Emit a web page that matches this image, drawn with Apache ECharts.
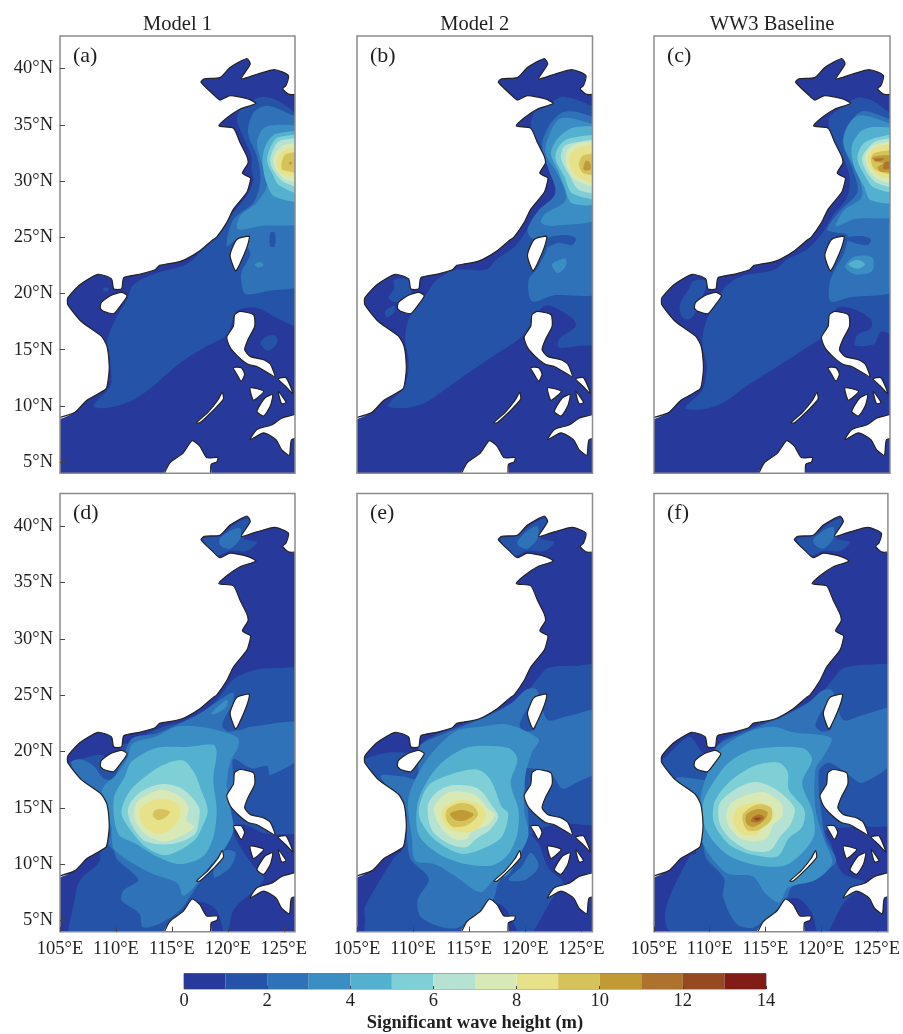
<!DOCTYPE html>
<html>
<head>
<meta charset="utf-8">
<style>html,body{margin:0;padding:0;background:#fff}#c{width:903px;height:1034px}</style>
<script src="https://cdn.jsdelivr.net/npm/echarts@6/dist/echarts.min.js"></script>
</head>
<body>
<div id="c"></div>
<script>
var panelTitles = ['Model 1', 'Model 2', 'WW3 Baseline'];
var panelTags = ['(a)', '(b)', '(c)', '(d)', '(e)', '(f)'];
var lonTicks = [105, 110, 115, 120, 125];
var latTicks = [5, 10, 15, 20, 25, 30, 35, 40];
var barTicks = [0, 2, 4, 6, 8, 10, 12, 14];
var bandColors = ['#27399b', '#2553a8', '#2f72b8', '#3a8ec4', '#54b0cf', '#7fd0d6', '#b5e2d2', '#d8e9b6', '#e7e28a', '#d6c25a', '#c09a35', '#ad732e', '#964a22', '#821c17'];
var bandEdges = [0, 1, 2, 3, 4, 5, 6, 7, 8, 9, 10, 11, 12, 13, 14];

// Coastlines (lon, lat)
var coastMain = [[105,8.7],[106.3,9.4],[107.4,10.5],[109.1,11.5],[109.3,12.3],[109.4,13.5],[109.2,15.3],[108.7,16.2],[106.9,17.5],[105.7,19],[105.7,19.6],[106.8,20.8],[108.4,21.7],[109.6,21.3],[109.8,20.4],[110.5,20.4],[110.7,21.4],[112.1,21.7],[113.5,22.1],[113.9,22.5],[114.5,22.6],[115.9,22.9],[117.5,23.8],[118.7,24.8],[119,25],[119.9,26.3],[120.5,27.5],[121.7,29],[122,30],[122,30.3],[121.3,30.7],[121.8,31.6],[121.7,32.2],[121.1,33.4],[120.5,34.7],[119.2,34.9],[119.9,35.6],[121.1,36.4],[122.5,36.9],[121.8,37.3],[120.2,37.6],[119.3,37.2],[118.7,37.7],[117.6,38.8],[117.9,39.1],[119.3,39.2],[120.2,40.1],[121.7,40.9],[122,40.4],[121.2,39.1],[122.6,39.5],[124.2,39.9],[125.4,39.4],[125.2,38.5],[124.9,38.2],[125.5,37.7],[126,37.8]];
var landCorners = [[126,42.9],[105,42.9]];
var hainan = [[108.7,19.2],[109.5,19.8],[110.5,20.1],[111,19.8],[110.4,18.9],[109.8,18.2],[108.9,18.4],[108.6,18.7]];
var taiwan = [[121.9,25.1],[120.8,24.8],[120.2,23.4],[120.7,22],[121.2,22.9],[121.7,24.1],[121.9,24.8]];
var luzon = [[120.6,18.1],[121.1,18.4],[122.3,18.1],[122.4,17.1],[121.8,15.9],[121.5,15],[122,14.4],[123.2,14.1],[123.8,13.7],[124.2,12.6],[123.3,13.1],[122.6,13.5],[121.8,13.7],[120.9,14.4],[120.2,15.2],[119.9,16.1],[120.5,17.1]];
var mindoro = [[120.5,13.4],[121.2,13.4],[121.5,12.8],[121.2,12.2],[120.8,12.8]];
var samar = [[124.5,12.4],[125.2,12.5],[125.8,11.1],[125.1,11.8]];
var panay = [[122,11.6],[123.2,11.3],[122.3,10.5]];
var negros = [[124,11],[123.8,10],[123.2,9.1],[122.6,9.5],[123.3,10.7]];
var leyte = [[124.5,11.3],[125.2,10.3],[124.8,10.2]];
var palawan = [[119.5,11.2],[119.6,10.6],[118.9,9.8],[117.5,8.5],[117.2,8.5],[118.2,9.4],[119.1,10.5]];
var mindanao = [[126,9.5],[125.5,9.1],[124.8,8.9],[123.9,8.3],[122.6,7.9],[122,7],[123.2,7.6],[124.3,7],[124.8,6.1],[125.5,5.6],[125.7,7],[126,7.1]];
var borneo = [[113.9,4],[114.8,4.9],[116,5.8],[116.8,6.9],[117.5,6.4],[118.1,5.4],[119.1,5.4],[119,5],[118.5,4.8],[118.5,4]];
var seaExtent = [[105,4],[126,4],[126,42.9],[105,42.9]];

// Filled wave height regions: [band, outline of lon/lat]
var contoursA = [
[0, seaExtent],
[1, [[108,10],[109.2,9.8],[111.3,10.4],[113,11.5],[115.7,13.8],[118.1,15.3],[119.9,16.3],[120.8,18.4],[122.6,18.7],[124.6,17.7],[126,17],[126,34.6],[125.2,36.7],[123.2,37.5],[121.4,36.7],[120.8,35.5],[121.2,34.3],[122.1,32.2],[122.1,31],[122.3,30.1],[121.7,28.7],[120.5,27.2],[119.3,25.4],[117.8,23.9],[116.3,22.6],[113.3,21.7],[111.5,20.7],[111,19.5],[109.8,17.4],[109.2,15.6],[109.5,13.8],[109.5,11.8]]],
[1, [[122.9,15.6],[123.5,16.2],[124.3,16.2],[124.4,15.6],[123.6,14.9]]],
[1, [[108.9,20.5],[109.3,20.5],[109.3,20.2],[108.9,20.2]]],
[2, [[126,35],[125.2,36.1],[123.5,36.7],[122.3,36.1],[121.8,34.3],[122.6,32.2],[122.9,30.1],[122.3,28.1],[120.5,26.6],[119.9,24.2],[120.9,24.8],[122,23.6],[121.2,21.8],[121.4,20.1],[121.8,19.9],[123.5,20.2],[126,21.1]]],
[1, [[123.8,25.4],[124.2,25.4],[124.2,24.2],[123.8,24.2]]],
[3, [[126,34.5],[124.6,35],[123.2,34.7],[122.6,33.4],[123.2,31],[123.5,29.6],[122.6,28.1],[121.1,26.9],[120.9,25.7],[122.9,26],[126,26.6]]],
[3, [[122.4,22.6],[122.9,22.8],[123.2,22.5],[122.7,22.3]]],
[4, [[126,34.1],[124.3,34.2],[123.4,33.2],[123.1,31.9],[123.4,30],[124.2,28.6],[126,28.4]]],
[5, [[126,33.8],[124.5,33.9],[123.8,33],[123.5,31.8],[124,30.6],[124.6,29.6],[126,28.9]]],
[6, [[126,33.5],[124.7,33.6],[124,32.7],[123.8,31.6],[124.3,30.6],[125,29.9],[126,29.5]]],
[7, [[126,33.2],[125,33.2],[124.2,32.4],[124.1,31.5],[124.6,30.6],[125.2,30.1],[126,30]]],
[8, [[126,32.9],[125.2,32.8],[124.5,32.1],[124.4,31.3],[124.8,30.7],[126,30.4]]],
[9, [[126,32.5],[125.2,32.4],[124.8,31.6],[124.9,31],[126,30.8]]],
[10, [[125.5,31.7],[125.7,31.7],[125.7,31.5],[125.5,31.5]]]
];
var contoursB = [
[0, seaExtent],
[1, [[107.8,10],[109.3,9.8],[111.1,10.3],[112.9,11.5],[115.3,13.2],[117.4,14.6],[119.4,15.9],[120,16.5],[121.8,18.9],[124.2,17.8],[124.5,17.1],[123,15.9],[123,15.2],[124.5,15.3],[126,15.9],[126,35.8],[125.4,36.9],[123.3,37.5],[122.1,36.8],[120.8,36],[120.5,34.6],[121.5,32.5],[122.6,31.3],[122.7,29.5],[122.4,28.3],[120.9,26.9],[120.2,25.7],[119.1,24.2],[117.4,23],[116.5,22.1],[113.8,22.1],[112,21.1],[111.3,20.1],[109.6,17.7],[109.3,15.9],[109.6,14.1],[109.3,11.8]]],
[1, [[108.3,21.2],[109.6,21.2],[109.8,20],[108.6,19.2],[107.8,19.6],[108.3,20.4]]],
[1, [[107.5,18.4],[108.3,18.9],[108.4,18.4],[107.7,17.9]]],
[2, [[126,34.9],[124.8,36.1],[123.3,36.1],[122.1,34.9],[121.5,33.1],[122.1,31],[122.7,28.9],[121.2,27.4],[120.2,25.7],[120.6,24.9],[122,24.5],[121.2,22.4],[120.3,21.2],[120.6,19.3],[122.4,19.8],[126,20.4]]],
[1, [[122,24.9],[123.6,25.2],[124.5,24.9],[124.2,24.3],[123,24.5],[121.8,24.1]]],
[3, [[126,34.3],[124.5,35.5],[123,35.5],[122.1,34],[121.8,32.5],[123,30.4],[123.6,28.3],[121.8,27.1],[121.4,26.3],[122.4,26],[126,27]]],
[3, [[122.4,22.6],[123.6,23.1],[123.6,22.4],[122.9,21.8]]],
[4, [[126,34.4],[124.5,34.8],[123,33.9],[122.3,32.5],[122.9,31],[123.5,29.5],[124.2,28],[126,28.3]]],
[5, [[126,33.8],[124,33.8],[123,33.1],[122.7,32],[123.5,30.4],[124.2,28.9],[126,28.6]]],
[6, [[126,33.5],[124.8,33.5],[123.5,33.1],[123.2,32],[124,30.4],[124.8,29.2],[126,29.1]]],
[7, [[126,33.3],[124.5,33.3],[123.7,32.6],[123.7,31.3],[124.5,30.1],[126,29.5]]],
[8, [[126,33.1],[124.8,33],[124,32.3],[124,31.3],[124.8,30.3],[126,29.8]]],
[9, [[126,32.3],[125.2,32.3],[124.8,31.5],[125.2,30.7],[126,30.6]]],
[10, [[125.4,31.8],[125.8,31.6],[125.8,31],[125.2,31]]]
];
var contoursC = [
[0, seaExtent],
[1, [[107.8,9.8],[109.4,9.7],[111.2,10.3],[113.3,11.8],[116.3,13.7],[118.6,15.2],[120,16.2],[121.3,18.7],[122.8,18.6],[124.3,17.7],[124.3,16.9],[123.1,16.3],[122.9,15.4],[124.6,15.5],[125.2,16.6],[126,16.3],[126,34.9],[125.5,36.4],[124.3,37.2],[123.1,37.4],[121.6,36.5],[120.6,35.6],[120.7,34.3],[121.9,31.9],[122.4,30.4],[122.2,28.6],[120.9,26.9],[120,25.4],[118.6,23.9],[116.8,23],[115.7,22.1],[112.7,21.5],[111.2,20.4],[109.6,17.4],[109.3,15.6],[109.7,13.5],[109.3,11.4]]],
[1, [[108.5,21.1],[109.7,21.1],[109.4,19.9],[108.7,18.3],[108.1,17.7],[107.5,17.9],[107.3,19],[108.1,20.4]]],
[2, [[126,34.6],[125.2,35.8],[123.5,36.2],[122.2,34.9],[121.8,33.4],[122.8,30.7],[123.1,29],[121.6,27.4],[120.4,25.7],[121.3,25.4],[122.2,25.2],[121.9,23.6],[120.7,21.2],[120.7,19.3],[122.2,19.6],[126,20.7]]],
[1, [[121.9,24.9],[123.4,25.1],[124.3,24.8],[124,24.3],[122.8,24.5]]],
[3, [[126,34.3],[124.6,35.6],[123.1,35.8],[122.1,34.6],[121.9,33.1],[123.1,30.7],[123.5,28.6],[121.9,27.4],[121.2,26],[122.8,26.6],[126,27.2]]],
[3, [[122,22.4],[122.9,23.3],[124.4,23.2],[124.4,22],[122.9,21.7]]],
[4, [[122.3,22.6],[123.1,23],[123.8,22.6],[123.1,22.2]]],
[4, [[126,34.3],[124.6,34.8],[123.4,34.4],[122.6,33.1],[122.8,31.3],[123.7,29.5],[124.3,28.3],[126,28.3]]],
[5, [[126,34],[124.9,33.9],[123.6,33.3],[123.1,32],[123.8,30.4],[124.6,29.4],[126,29.1]]],
[6, [[126,33.6],[124.9,33.6],[124,32.9],[123.5,32],[124,30.7],[124.9,29.8],[126,29.5]]],
[7, [[126,33.3],[124.6,33.2],[123.8,32.2],[124.1,31],[125,30.1],[126,29.9]]],
[8, [[126,33.1],[124.7,33],[124,32],[124.4,31],[125.2,30.4],[126,30.3]]],
[9, [[126,32.6],[124.6,32.5],[124.3,31.9],[124.7,31],[126,30.6]]],
[10, [[124.4,32.1],[125.6,32.3],[126,32],[126,31],[125.2,30.8],[124.9,31.2],[125.4,31.6],[124.7,31.7]]],
[11, [[124.6,32],[125.5,32],[125.2,31.8],[124.7,31.8]]],
[11, [[125.6,31.7],[126,31.6],[125.9,31.1],[125.4,31.1]]]
];
var contoursD = [
[0, seaExtent],
[1, [[117.8,38.9],[119.3,39.1],[120.5,40.1],[121.8,40.7],[122,40.4],[121.4,38.9],[122.6,38.6],[121.7,37.8],[120.2,37.8],[119,37.4],[118.2,38.1]]],
[2, [[119.3,38.9],[120.2,39.6],[121.1,39.8],[121.1,38.9],[120.2,38],[119.3,38.3]]],
[1, [[126,27],[124.3,27.4],[122.3,27.2],[120.5,26.4],[119.3,24.9],[118.1,23.7],[116.3,22.7],[114.2,22.2],[111,20.7],[110.7,20.7],[109.8,19.3],[108.6,19.7],[107.1,19.4],[106,19.1],[105,17.8],[107.1,14.8],[108.6,10.5],[106.8,8.6],[106.3,6.8],[106,4],[113.9,4],[117.2,4.7],[117.2,6.6],[118.7,6.2],[119.3,5.2],[119.9,4],[120.5,5.9],[123.2,8.6],[122.3,9.8],[120.8,12.1],[120.5,13.3],[121.5,13.5],[123.5,12.7],[126,13.3]]],
[2, [[126,22.5],[122,22.2],[120.8,21.9],[120.2,23],[120.5,25.2],[119.3,24.6],[117.5,23.4],[115.7,22.5],[113.6,21.6],[111.5,21.2],[110.7,19.7],[109.8,17.6],[108.9,17.6],[108,18.7],[106.8,19.3],[106,19],[106.9,17.3],[109.2,14.4],[109.5,12.7],[109.3,11.8],[109.8,11.2],[110.1,10.4],[112,8.6],[110.7,7.7],[110.5,6.8],[112.1,5.6],[112.4,4.4],[113.9,4.7],[115.7,5.9],[117.2,8],[119.3,11.2],[120.5,13.3],[119.9,14.8],[120.5,17.2],[120.5,19.3],[122.1,18.5],[123.5,18.7],[123.8,17.9],[126,19.9]]],
[2, [[118.8,8.8],[120.2,9.7],[120.7,11],[119.7,11.2],[118.8,9.7]]],
[1, [[119.5,22.3],[120,23.5],[120.6,24.2],[120.9,23.4],[120.9,22],[120,21.8]]],
[3, [[120.9,21.2],[119,21.9],[117.5,22.2],[115.4,22.2],[113.5,21.3],[111.5,20.7],[111,19.3],[109.9,17.8],[108.9,16.9],[108.7,15.7],[109.6,13.3],[109.6,12.6],[109.9,11.2],[113.1,9.2],[115.5,8.3],[116,7.2],[117,8],[118.1,9.5],[119.6,11.2],[120.5,13],[120.2,15.1],[119.9,16.9],[120.2,19],[120.9,20.4]]],
[3, [[118.5,23.4],[119.9,24.6],[119.9,24],[118.8,23.3]]],
[4, [[118.7,20.6],[119,19.9],[118.7,17.5],[119,14.8],[118.7,12.4],[117.8,10.7],[115.7,10],[113.6,10.7],[111.8,11.8],[110.2,12.7],[109.8,15.8],[110.8,17.8],[111.4,19.1],[113.6,20.3],[116.3,20.4]]],
[5, [[116,19.2],[117,18.1],[117.6,16.6],[118.2,14.8],[117.8,13.5],[116.9,12],[114.5,10.8],[112.7,11.5],[111.4,12.9],[110.5,14.5],[111.1,16.3],[112.4,17.6],[114.2,18.8]]],
[6, [[114,17.1],[115.9,16.7],[117.4,15.1],[117.4,13.8],[117,12.6],[115.1,11.8],[112.7,12],[111.4,13.5],[111.1,15],[112.2,16.4]]],
[7, [[114.1,16.6],[115.6,16.1],[116.5,15.1],[116.3,13.9],[117,13.3],[115.4,12.3],[114.2,12],[112.7,12.6],[111.7,13.9],[111.8,15.4],[112.7,16.1]]],
[8, [[114.1,15.8],[115.6,15.3],[115.7,14.2],[114.8,13],[113.6,12.7],[112.4,13.5],[112.1,14.8],[112.9,15.5]]],
[9, [[113.8,14.9],[114.8,14.7],[114.5,14.2],[113.8,13.9],[113.3,14.3],[113.4,14.7]]]
];
var contoursE = [
[0, seaExtent],
[1, [[117.8,38.9],[119.3,39.1],[120.5,40.1],[121.8,40.7],[122,40.4],[121.4,38.9],[122.6,38.6],[121.7,37.8],[120.2,37.8],[119,37.4],[118.2,38.1]]],
[2, [[119.3,38.6],[120.2,39.6],[121.1,40],[121.1,38.9],[120.2,38],[119.5,38.2]]],
[1, [[126,27.4],[124.2,27.6],[122,27.4],[121.3,26.7],[119.8,25],[117.6,23.7],[114.7,22.5],[111.1,21],[110.7,20.1],[109.6,19.9],[107.8,19.9],[105.7,19.3],[105,18.1],[106.9,15.4],[109,11.3],[108.4,10.7],[105.7,6.2],[105.7,5.3],[106,4],[113.8,4],[117,6.5],[118.1,6.2],[119,4.7],[119.9,4],[122.4,6.9],[123.4,8.3],[122.1,9.6],[121.2,11.8],[120.6,12.7],[123,13.6],[126,13.9]]],
[2, [[126,23.6],[123.6,23.1],[122,22.8],[121,25.5],[120.1,25.5],[118.8,24.3],[116.6,23.1],[114.1,22.1],[110.8,20.7],[110.4,19.9],[110.4,17.6],[109,17.8],[107.1,17.8],[109.2,15.1],[109.5,11.8],[109.8,10.4],[111.4,8.7],[110.4,6.8],[110.7,5.3],[112.6,4.4],[114.1,4.4],[117.1,6.8],[117.6,8.3],[120,11.8],[120.3,13.9],[119.9,18.4],[120.6,18.5],[122.4,17.9],[123.3,16.7],[124.5,17.2],[126,18.7]]],
[2, [[118.5,8.6],[119.7,9.8],[120.5,11],[121.2,9.8],[120,8.6]]],
[1, [[119.5,22.3],[120,23.5],[120.6,24.2],[120.9,23.4],[120.9,22],[120,21.8]]],
[3, [[116,22.2],[118.4,22.4],[121.2,21.1],[120.6,19.9],[120,17.8],[119.9,14.8],[120.3,12.7],[119.7,11.2],[118.5,9.1],[117.2,8.6],[116,7.5],[113.8,8.9],[111.9,10],[110.2,10.3],[109.9,12.3],[109.6,15.9],[111.3,19.4],[113.8,21.8]]],
[4, [[118.5,20.3],[119.3,19.3],[118.7,17.2],[119.4,14.8],[119.3,12.7],[118.5,10.9],[117.1,9.9],[114.7,10],[112.3,10.9],[110.5,12.6],[110.4,15.4],[111.4,17.6],[112.9,19.3],[115,20.4]]],
[5, [[115.7,18.4],[116.9,17.5],[117.9,15.1],[118.5,14.5],[117.9,12.4],[116.5,11.5],[114.5,10.9],[112.9,11.5],[111.5,12.6],[110.5,14.5],[111.3,16.9],[113.2,17.9]]],
[6, [[113.5,17],[115.8,16.7],[117.1,15.1],[117.6,14.2],[116.8,13],[115.7,12.3],[114.7,11.5],[113.2,11.8],[111.7,13],[111.3,15.1],[112,16.3]]],
[7, [[113.3,16.4],[115.6,16.1],[116.8,14.8],[117.3,14.4],[116.7,13.5],[115.3,12.9],[114.7,12.2],[113.5,12.3],[112.3,13.5],[111.9,15.1]]],
[8, [[112.8,15.1],[114.4,15.7],[116,15.2],[116.5,14.4],[115.7,13.1],[114.4,12.8],[113,13.3],[112.5,14.5]]],
[9, [[113,14.8],[114.1,15.4],[115.3,15.2],[115.8,14.4],[114.9,13.5],[113.6,13.3],[113,13.9]]],
[10, [[113.3,14.5],[114.4,14.8],[115.4,14.4],[114.7,13.9],[113.8,13.9]]]
];
var contoursF = [
[0, seaExtent],
[1, [[117.8,38.9],[119.3,39.1],[120.5,40.1],[121.8,40.7],[122,40.4],[121.4,38.9],[122.6,38.6],[121.7,37.8],[120.2,37.8],[119,37.4],[118.2,38.1]]],
[2, [[119.3,38.8],[120.2,39.6],[121.1,39.9],[121.1,38.9],[120.2,38],[119.5,38.3]]],
[1, [[126,27.3],[124.2,27.7],[122,27.4],[121.3,26.7],[119.8,25],[117.6,23.7],[114.7,22.5],[111.1,21],[110.7,20.1],[109.4,19.9],[108.2,21.3],[105.8,19.3],[105,18.1],[106.7,15.1],[108.8,11],[108.2,10.7],[106.1,6.2],[106.4,4.1],[114,4],[116.8,6.8],[118,6.9],[119.2,5.6],[120,4],[122,6.5],[124,8.3],[121.9,9.2],[120.9,11.8],[120.4,13],[122.8,13.3],[126,13.9]]],
[2, [[126,23.8],[123.6,23.2],[122,22.8],[121,25.4],[120.1,25.4],[118.8,24.3],[116.6,23.1],[114.1,22.1],[110.9,20.7],[110.4,19.9],[110.3,17.6],[107,17.6],[108.8,15],[109.4,11.8],[109.7,10.5],[111.3,8.7],[111.2,7.1],[112.4,4.7],[114,4.4],[116.8,6.8],[117.4,8],[121.3,10.1],[120.4,12.3],[120.1,13.9],[119.8,18.2],[120.7,19],[122.5,17.9],[123.7,17.2],[126,19.7]]],
[1, [[119.5,22.3],[120,23.5],[120.6,24.2],[120.9,23.4],[120.9,22],[120,21.8]]],
[3, [[115.7,22.2],[117.5,21.7],[120.9,21.2],[120.3,19.7],[119.5,18.4],[119.5,14.9],[120.3,12.1],[121,10.1],[119.5,8.6],[117,7.9],[116.3,6.6],[115,7.4],[113.9,8.9],[111.5,9.2],[109.4,11.8],[109.1,14.5],[109.4,16.9],[110.9,20.1],[113.6,21.8]]],
[4, [[114,20.2],[118.3,20.3],[119.2,19.3],[118.3,17.2],[119.2,14.8],[119.4,12.7],[118.5,11.2],[116.8,9.9],[114.2,9.9],[111.5,10.9],[109.7,13],[109.4,15.4],[110.9,18.1],[112.1,19.3]]],
[5, [[112.4,17.8],[114.2,18.8],[116.2,19],[117,18.2],[117.1,16.6],[118.5,14.8],[118.3,13.3],[117.1,12.3],[116.1,10.7],[114,10.8],[111.8,11.7],[110.4,13.6],[110.4,15.4],[111.2,16.7]]],
[6, [[112.4,16.7],[114.2,17.3],[116,16.6],[117.6,15],[117.3,13.6],[116.3,12.4],[115.4,11.2],[113.6,11.2],[111.8,12.3],[110.9,13.6],[110.9,15.4]]],
[7, [[112.5,15.8],[114.8,16.4],[116.4,15.4],[116.5,14.2],[115.7,13.5],[115.2,12.4],[114.2,12],[112.7,12.3],[111.6,13.6],[111.6,14.9]]],
[8, [[112.5,15],[114.2,15.5],[115.5,15.1],[115.8,14.2],[114.8,13.3],[114.2,12.6],[112.8,12.7],[112.1,13.9]]],
[9, [[113,14.5],[114.3,15.3],[115.5,15],[115.5,13.9],[114.3,13],[113.4,13],[113,13.7]]],
[10, [[113.3,14.4],[114.3,14.9],[115.2,14.6],[114.9,13.9],[113.9,13.3],[113.3,13.6]]],
[11, [[113.9,14.2],[114.5,14.4],[114.9,14.1],[114.3,13.7],[113.7,13.8]]],
[12, [[114,14.1],[114.6,14.1],[114.4,13.9],[114.1,13.9]]]
];
var allContours = [contoursA, contoursB, contoursC, contoursD, contoursE, contoursF];
var closedIslands = [hainan, taiwan, luzon, mindoro, samar, panay, negros, leyte, palawan];
var openCoasts = [coastMain, mindanao, borneo];

var SERIF = '"Liberation Serif","Times New Roman",serif';
var TEXT = '#1f1f1f';
var COAST = '#232323';
var panelLeft = [60, 357, 654];
var panelWidth = [235, 235.5, 236];
var panelTop = [36, 493.5];
var panelHeight = [437.3, 438.2];

var grids = [], xAxes = [], yAxes = [], series = [], titles = [];

// Outlines that end on the map frame run on past it and are clipped there,
// so that rounding a corner does not pull them away from the frame.
function pastFrame(p) {
  return [p[0] >= 126 ? 127 : (p[0] <= 105 ? 104 : p[0]), p[1] <= 4 ? 3 : (p[1] >= 42.9 ? 44 : p[1])];
}
function toPx(api, pts) {
  return pts.map(function (p) { return api.coord(pastFrame(p)); });
}

allContours.forEach(function (contours, i) {
  var col = i % 3, row = Math.floor(i / 3);
  grids.push({
    left: panelLeft[col], top: panelTop[row], width: panelWidth[col], height: panelHeight[row],
    show: false
  });
  var bottomRow = row === 1, leftCol = col === 0;
  xAxes.push({
    gridIndex: i, type: 'value', min: 105, max: 126, position: 'bottom', z: 6,
    splitLine: { show: false }, axisLine: { show: false },
    axisTick: { show: bottomRow, inside: true, length: 5, lineStyle: { color: '#444', width: 1 }, customValues: lonTicks },
    axisLabel: { show: bottomRow, margin: 8, color: TEXT, fontFamily: SERIF, fontSize: 18.5, customValues: lonTicks,
      formatter: function (v) { return v + '°E'; } }
  });
  yAxes.push({
    gridIndex: i, type: 'value', min: 4, max: 42.9, position: 'left', z: 6,
    splitLine: { show: false }, axisLine: { show: false },
    axisTick: { show: leftCol, inside: true, length: 5, lineStyle: { color: '#444', width: 1 }, customValues: latTicks },
    axisLabel: { show: leftCol, margin: 7, color: TEXT, fontFamily: SERIF, fontSize: 18.5, customValues: latTicks,
      formatter: function (v) { return v + '°N'; } }
  });
  series.push({
    type: 'custom', xAxisIndex: i, yAxisIndex: i, coordinateSystem: 'cartesian2d',
    silent: true, animation: false, clip: true, z: 2,
    data: contours.map(function (c) { return c[0]; }),
    renderItem: function (params, api) {
      var c = contours[params.dataIndex];
      return {
        type: 'polygon',
        shape: { points: toPx(api, c[1]), smooth: c[1] === seaExtent ? 0 : 0.3 },
        style: { fill: bandColors[c[0]], stroke: null }
      };
    }
  });
  var landRows = closedIslands.map(function (p) { return { pts: p, open: false }; })
    .concat(openCoasts.map(function (p) { return { pts: p, open: true }; }));
  series.push({
    type: 'custom', xAxisIndex: i, yAxisIndex: i, coordinateSystem: 'cartesian2d',
    silent: true, animation: false, clip: true, z: 3,
    data: landRows.map(function (r, k) { return k; }),
    renderItem: function (params, api) {
      var r = landRows[params.dataIndex];
      var fillPts = r.pts === coastMain ? r.pts.concat(landCorners) : r.pts;
      return {
        type: 'group',
        children: [
          { type: 'polygon', shape: { points: toPx(api, fillPts), smooth: 0.2 },
            style: { fill: '#fff', stroke: r.open ? null : COAST, lineWidth: 1.2 } },
          r.open ? { type: 'polyline', shape: { points: toPx(api, r.pts), smooth: 0.2 },
            style: { fill: null, stroke: COAST, lineWidth: 1.2 } } : { type: 'group', children: [] }
        ]
      };
    }
  });
  series.push({
    type: 'custom', xAxisIndex: i, yAxisIndex: i, coordinateSystem: 'cartesian2d',
    silent: true, animation: false, clip: false, z: 4,
    data: [0],
    renderItem: function (params, api) {
      return { type: 'polygon', shape: { points: seaExtent.map(function (p) { return api.coord(p); }) },
        style: { fill: null, stroke: '#8c8c8c', lineWidth: 1.5 } };
    }
  });
  titles.push({
    text: panelTags[i], left: panelLeft[col] + 13, top: panelTop[row] + 9,
    textStyle: { fontFamily: SERIF, fontSize: 22, fontWeight: 'normal', color: TEXT }, padding: 0
  });
});

panelTitles.forEach(function (t, col) {
  titles.push({
    text: t, left: panelLeft[col] + panelWidth[col] / 2, top: 14, textAlign: 'center',
    textStyle: { fontFamily: SERIF, fontSize: 20.5, fontWeight: 'normal', color: TEXT }, padding: 0
  });
});

// Colour bar
var barIdx = allContours.length;
grids.push({ left: 184, top: 973.5, width: 582, height: 19.5, show: true, borderColor: '#777', borderWidth: 1 });
xAxes.push({
  gridIndex: barIdx, type: 'value', min: 0, max: 14, position: 'bottom', z: 6,
  splitLine: { show: false }, axisLine: { show: false },
  axisTick: { show: true, inside: true, length: 3, lineStyle: { color: '#444', width: 1 }, customValues: barTicks },
  axisLabel: { margin: 3, color: TEXT, fontFamily: SERIF, fontSize: 18.5, customValues: barTicks },
  name: 'Significant wave height (m)', nameLocation: 'middle', nameGap: 25,
  nameTextStyle: { fontFamily: SERIF, fontSize: 18.5, color: TEXT, fontWeight: 'bold' }
});
yAxes.push({ gridIndex: barIdx, type: 'value', min: 0, max: 1, show: false });
series.push({
  type: 'custom', xAxisIndex: barIdx, yAxisIndex: barIdx, coordinateSystem: 'cartesian2d',
  silent: true, animation: false, z: 2,
  data: bandColors.map(function (c, k) { return [bandEdges[k], bandEdges[k + 1]]; }),
  renderItem: function (params, api) {
    var a = api.coord([api.value(0), 1]), b = api.coord([api.value(1), 0]);
    return { type: 'rect', shape: { x: a[0], y: a[1], width: b[0] - a[0], height: b[1] - a[1] },
      style: { fill: bandColors[params.dataIndex] } };
  }
});

var chart = echarts.init(document.getElementById('c'), null, { renderer: 'canvas' });
chart.setOption({
  animation: false, backgroundColor: '#fff',
  title: titles, grid: grids, xAxis: xAxes, yAxis: yAxes, series: series
});
</script>
</body>
</html>
